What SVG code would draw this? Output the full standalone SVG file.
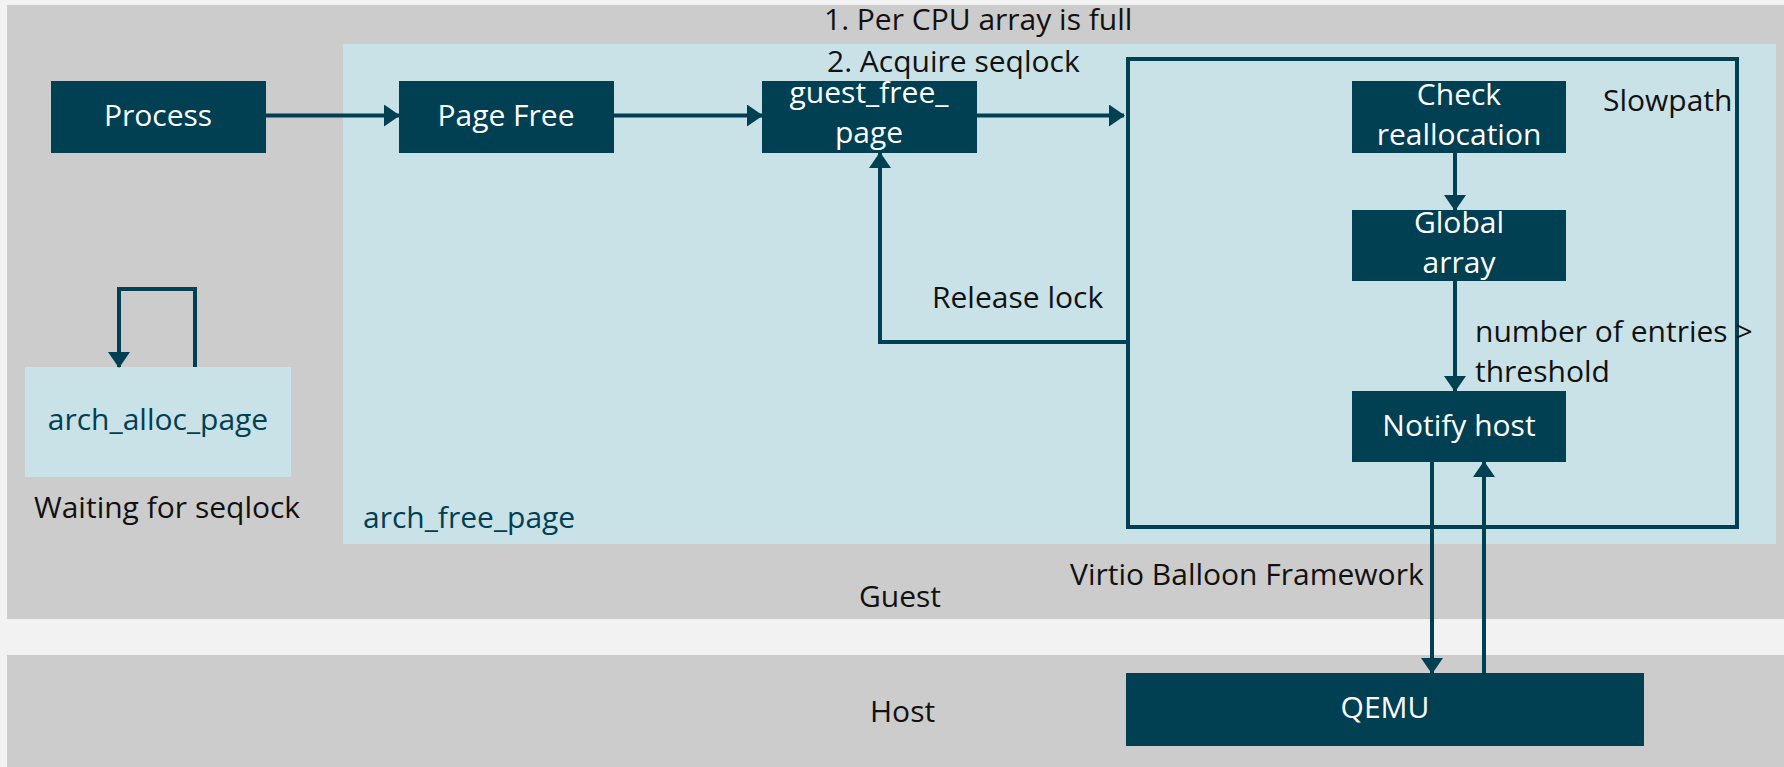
<svg xmlns="http://www.w3.org/2000/svg" width="1784" height="767" viewBox="0 0 1784 767">
  <style>
    text { font-family: "Open Sans", "Liberation Sans", sans-serif; font-size: 30px; }
    .lbl { fill: #111111; }
    .box { fill: #004052; }
    .boxtxt { fill: #ffffff; text-anchor: middle; }
    .teal { fill: #004052; }
    .conn { fill: none; stroke: #004052; stroke-width: 4; }
  </style>
  <defs>
    <marker id="arrow" markerUnits="userSpaceOnUse" markerWidth="16" markerHeight="22" refX="15" refY="11" orient="auto">
      <path d="M0,0 L16,11 L0,22 Z" fill="#004052"/>
    </marker>
  </defs>

  <!-- backdrop -->
  <rect x="0" y="0" width="1784" height="767" fill="#f2f2f2"/>

  <!-- guest area -->
  <g id="guest">
    <rect x="7" y="5" width="1777" height="614" fill="#cccccc"/>
    <text class="lbl" x="859" y="607">Guest</text>
  </g>

  <!-- host area -->
  <g id="host">
    <rect x="7" y="655" width="1777" height="112" fill="#cccccc"/>
    <text class="lbl" x="870" y="722">Host</text>
  </g>

  <!-- arch_free_page region -->
  <g id="arch-free-page">
    <rect x="343" y="44" width="1433" height="500" fill="#c9e2e7"/>
    <text class="teal" x="363" y="528">arch_free_page</text>
  </g>

  <!-- slowpath frame -->
  <g id="slowpath">
    <rect x="1128" y="59" width="609" height="468" fill="none" stroke="#004052" stroke-width="4"/>
    <text class="lbl" x="1603" y="111">Slowpath</text>
  </g>

  <g id="process">
    <rect class="box" x="51" y="81" width="215" height="72"/>
    <text class="boxtxt" x="158" y="126">Process</text>
  </g>

  <g id="page-free">
    <rect class="box" x="399" y="81" width="215" height="72"/>
    <text class="boxtxt" x="506" y="126">Page Free</text>
  </g>

  <g id="guest-free-page">
    <rect class="box" x="762" y="81" width="215" height="72"/>
    <text class="boxtxt" x="869" y="103">guest_free_</text>
    <text class="boxtxt" x="869" y="143">page</text>
  </g>

  <g id="check-reallocation">
    <rect class="box" x="1352" y="81" width="214" height="72"/>
    <text class="boxtxt" x="1459" y="105">Check</text>
    <text class="boxtxt" x="1459" y="145">reallocation</text>
  </g>

  <g id="global-array">
    <rect class="box" x="1352" y="210" width="214" height="71"/>
    <text class="boxtxt" x="1459" y="233">Global</text>
    <text class="boxtxt" x="1459" y="273">array</text>
  </g>

  <g id="notify-host">
    <rect class="box" x="1352" y="391" width="214" height="71"/>
    <text class="boxtxt" x="1459" y="436">Notify host</text>
  </g>

  <g id="qemu">
    <rect class="box" x="1126" y="673" width="518" height="73"/>
    <text class="boxtxt" x="1385" y="718">QEMU</text>
  </g>

  <g id="arch-alloc-page">
    <rect x="25" y="367" width="266" height="110" fill="#c9e2e7"/>
    <text class="teal" x="158" y="430" text-anchor="middle">arch_alloc_page</text>
    <text class="lbl" x="34" y="518">Waiting for seqlock</text>
  </g>

  <!-- connectors -->
  <g id="connectors">
    <line class="conn" x1="266" y1="115.5" x2="399" y2="115.5" marker-end="url(#arrow)"/>
    <line class="conn" x1="614" y1="115.5" x2="762" y2="115.5" marker-end="url(#arrow)"/>
    <line class="conn" x1="977" y1="115.5" x2="1124" y2="115.5" marker-end="url(#arrow)"/>
    <polyline class="conn" points="1128,342 880,342 880,153" marker-end="url(#arrow)"/>
    <line class="conn" x1="1455" y1="153" x2="1455" y2="210" marker-end="url(#arrow)"/>
    <line class="conn" x1="1455" y1="281" x2="1455" y2="391" marker-end="url(#arrow)"/>
    <line class="conn" x1="1432" y1="462" x2="1432" y2="673" marker-end="url(#arrow)"/>
    <line class="conn" x1="1484" y1="673" x2="1484" y2="462" marker-end="url(#arrow)"/>
    <polyline class="conn" points="195,367 195,289 119,289 119,367" marker-end="url(#arrow)"/>

    <text class="lbl" x="824" y="30">1. Per CPU array is full</text>
    <text class="lbl" x="827" y="72">2. Acquire seqlock</text>
    <text class="lbl" x="932" y="308">Release lock</text>
    <text class="lbl" x="1475" y="342">number of entries &gt;</text>
    <text class="lbl" x="1475" y="382">threshold</text>
    <text class="lbl" x="1070" y="585">Virtio Balloon Framework</text>
  </g>
</svg>
